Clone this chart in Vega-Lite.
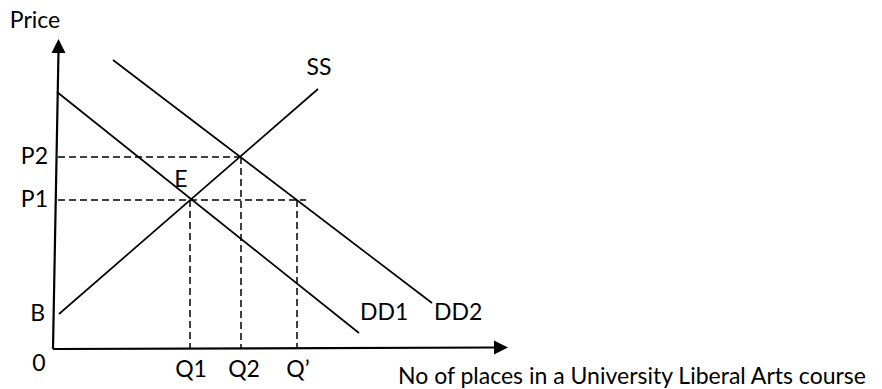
{
  "$schema": "https://vega.github.io/schema/vega-lite/v6.json",
  "width": 882,
  "height": 389,
  "autosize": "none",
  "padding": 0,
  "background": "white",
  "config": {"view": {"stroke": null}, "text": {"font": "Lato", "fontSize": 23, "color": "black"}},
  "datasets": {
    "solid": [
      {"seg": "DD1", "x": 4, "y": 257},
      {"seg": "DD1", "x": 306, "y": 16},
      {"seg": "DD2", "x": 60, "y": 289},
      {"seg": "DD2", "x": 379, "y": 46},
      {"seg": "SS", "x": 6, "y": 35},
      {"seg": "SS", "x": 265, "y": 260}
    ],
    "axes": [
      {"seg": "yaxis", "x": 0, "y": 0},
      {"seg": "yaxis", "x": 5.5, "y": 298},
      {"seg": "xaxis", "x": 0, "y": 0},
      {"seg": "xaxis", "x": 442, "y": 1.5}
    ],
    "dashed": [
      {"seg": "P2", "x": 5, "y": 192},
      {"seg": "P2", "x": 187, "y": 192},
      {"seg": "P1", "x": 5, "y": 149},
      {"seg": "P1", "x": 253, "y": 149},
      {"seg": "Q1", "x": 137, "y": 149},
      {"seg": "Q1", "x": 137.01, "y": 0},
      {"seg": "Q2", "x": 188, "y": 192},
      {"seg": "Q2", "x": 188.01, "y": 0},
      {"seg": "Qp", "x": 244, "y": 149},
      {"seg": "Qp", "x": 244.01, "y": 0}
    ],
    "arrowUp": [{"x": 5.5, "y": 303}],
    "arrowRight": [{"x": 448, "y": 1.5}],
    "labels": [
      {"label": "Price", "x": -18, "y": 328, "al": "center"},
      {"label": "SS", "x": 266, "y": 281, "al": "center"},
      {"label": "P2", "x": -5, "y": 192, "al": "right"},
      {"label": "P1", "x": -5, "y": 149, "al": "right"},
      {"label": "E", "x": 128, "y": 169, "al": "center"},
      {"label": "B", "x": -8, "y": 35, "al": "right"},
      {"label": "DD1", "x": 307, "y": 36, "al": "left"},
      {"label": "DD2", "x": 381, "y": 36, "al": "left"},
      {"label": "0", "x": -14, "y": -15, "al": "center"},
      {"label": "Q1", "x": 138, "y": -21, "al": "center"},
      {"label": "Q2", "x": 191, "y": -21, "al": "center"},
      {"label": "Q’", "x": 245, "y": -21, "al": "center"},
      {"label": "No of places in a University Liberal Arts course", "x": 345, "y": -28, "al": "left"}
    ]
  },
  "layer": [
    {
      "data": {"name": "solid"},
      "mark": {"type": "line", "color": "black", "strokeWidth": 1.7},
      "encoding": {
        "x": {"field": "x", "type": "quantitative", "scale": {"domain": [-53, 829], "zero": false, "nice": false}, "axis": null},
        "y": {"field": "y", "type": "quantitative", "scale": {"domain": [-40, 349], "zero": false, "nice": false}, "axis": null},
        "detail": {"field": "seg"}
      }
    },
    {
      "data": {"name": "axes"},
      "mark": {"type": "line", "color": "black", "strokeWidth": 2.2},
      "encoding": {
        "x": {"field": "x", "type": "quantitative"},
        "y": {"field": "y", "type": "quantitative"},
        "detail": {"field": "seg"}
      }
    },
    {
      "data": {"name": "dashed"},
      "mark": {"type": "line", "color": "black", "strokeWidth": 1.5, "strokeDash": [7, 4]},
      "encoding": {
        "x": {"field": "x", "type": "quantitative"},
        "y": {"field": "y", "type": "quantitative"},
        "detail": {"field": "seg"}
      }
    },
    {
      "data": {"name": "arrowUp"},
      "mark": {"type": "point", "shape": "M0,-1L1,1L-1,1Z", "filled": true, "color": "black", "size": 196, "opacity": 1, "strokeWidth": 0},
      "encoding": {
        "x": {"field": "x", "type": "quantitative"},
        "y": {"field": "y", "type": "quantitative"}
      }
    },
    {
      "data": {"name": "arrowRight"},
      "mark": {"type": "point", "shape": "M1,0L-1,-1L-1,1Z", "filled": true, "color": "black", "size": 196, "opacity": 1, "strokeWidth": 0},
      "encoding": {
        "x": {"field": "x", "type": "quantitative"},
        "y": {"field": "y", "type": "quantitative"}
      }
    },
    {
      "data": {"name": "labels"},
      "transform": [{"filter": "datum.al == 'center'"}],
      "mark": {"type": "text", "align": "center", "baseline": "middle"},
      "encoding": {
        "x": {"field": "x", "type": "quantitative"},
        "y": {"field": "y", "type": "quantitative"},
        "text": {"field": "label"}
      }
    },
    {
      "data": {"name": "labels"},
      "transform": [{"filter": "datum.al == 'left'"}],
      "mark": {"type": "text", "align": "left", "baseline": "middle"},
      "encoding": {
        "x": {"field": "x", "type": "quantitative"},
        "y": {"field": "y", "type": "quantitative"},
        "text": {"field": "label"}
      }
    },
    {
      "data": {"name": "labels"},
      "transform": [{"filter": "datum.al == 'right'"}],
      "mark": {"type": "text", "align": "right", "baseline": "middle"},
      "encoding": {
        "x": {"field": "x", "type": "quantitative"},
        "y": {"field": "y", "type": "quantitative"},
        "text": {"field": "label"}
      }
    }
  ]
}
